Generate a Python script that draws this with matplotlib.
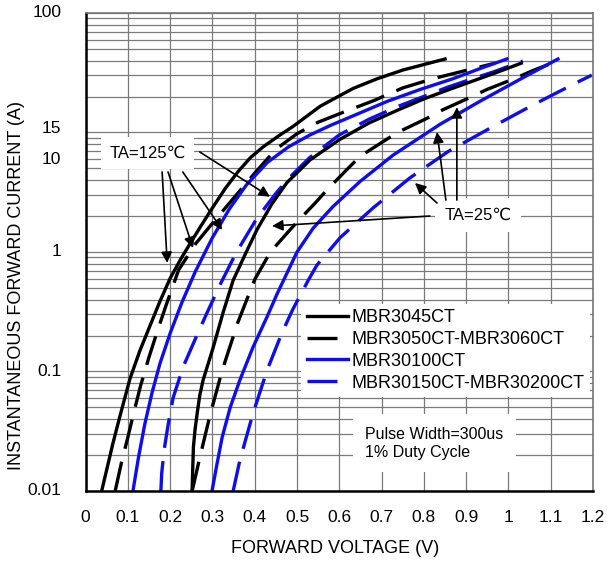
import matplotlib
matplotlib.use("Agg")
import matplotlib.pyplot as plt
from matplotlib.ticker import NullFormatter, LogLocator

plt.rcParams['font.family'] = ['Liberation Sans', 'DejaVu Sans', 'Noto Sans CJK SC']

# forward voltage (V) / forward current (A)
# MBR3045CT
v_3045_125 = [0.038, 0.05, 0.064, 0.08, 0.105, 0.128, 0.152, 0.175, 0.20, 0.225, 0.247, 0.275,
              0.30, 0.33, 0.36, 0.39, 0.42, 0.46, 0.49, 0.555, 0.633, 0.69, 0.75, 0.85]
i_3045_125 = [0.01, 0.0151, 0.0245, 0.0407, 0.0871, 0.148, 0.24, 0.38, 0.603, 0.871, 1.175, 1.70,
              2.34, 3.39, 4.68, 6.17, 7.59, 9.55, 11.2, 16.6, 23.4, 28.2, 33.3, 41.2]
v_3045_25 = [0.252, 0.253, 0.255, 0.259, 0.264, 0.27, 0.278, 0.302, 0.325, 0.349, 0.38, 0.405, 0.44,
             0.476, 0.531, 0.60, 0.67, 0.74, 0.80, 0.86, 0.97, 1.03]
i_3045_25 = [0.01, 0.0141, 0.0233, 0.033, 0.045, 0.063, 0.085, 0.16, 0.31, 0.58, 1.0, 1.53, 2.51,
             3.8, 5.9, 8.7, 12.0, 15.5, 19.1, 22.9, 31.6, 38]

# MBR3050CT-MBR3060CT
v_3060_125 = [0.07, 0.085, 0.10, 0.115, 0.13, 0.15, 0.17, 0.19, 0.22, 0.26, 0.30, 0.35, 0.40,
              0.45, 0.50, 0.55, 0.61, 0.68, 0.75, 0.82, 0.90, 0.968]
i_3060_125 = [0.01, 0.0174, 0.0282, 0.0468, 0.0759, 0.132, 0.219, 0.355, 0.708, 1.17, 1.74, 2.82, 4.57,
              7.24, 9.77, 12.2, 14.8, 18.4, 23.6, 28.1, 33.1, 38]
v_3060_25 = [0.252, 0.27, 0.294, 0.323, 0.36, 0.40, 0.437, 0.472, 0.50, 0.543, 0.571, 0.618, 0.649,
             0.715, 0.75, 0.814, 0.845, 0.914, 0.949, 1.02, 1.055, 1.117]
i_3060_25 = [0.01, 0.019, 0.0427, 0.102, 0.257, 0.589, 1.0, 1.38, 1.78, 2.57, 3.31, 4.9, 6.31,
             8.91, 10.5, 13.5, 15.5, 20, 22.9, 28.8, 32.7, 39.8]

# MBR30100CT
v_30100_125 = [0.112, 0.125, 0.14, 0.157, 0.176, 0.2, 0.228, 0.26, 0.30, 0.34, 0.38, 0.43, 0.48,
               0.531, 0.58, 0.633, 0.713, 0.791, 0.869, 0.933, 0.996]
i_30100_125 = [0.01, 0.019, 0.0363, 0.0661, 0.117, 0.209, 0.38, 0.692, 1.32, 2.29, 3.63, 5.62, 7.59,
               9.55, 11.5, 13.8, 18.2, 22.9, 28.2, 34.3, 41.2]
v_30100_25 = [0.299, 0.311, 0.323, 0.342, 0.365, 0.396, 0.429, 0.453, 0.50, 0.538, 0.585, 0.649,
              0.727, 0.838, 0.932, 1.03, 1.117]
i_30100_25 = [0.01, 0.017, 0.0282, 0.0501, 0.0851, 0.16, 0.286, 0.447, 1.0, 1.58, 2.4, 3.89,
              6.46, 11.7, 18.2, 28.2, 41.2]

# MBR30150CT-MBR30200CT
v_30200_125 = [0.178, 0.18, 0.186, 0.195, 0.207, 0.231, 0.263, 0.287, 0.32, 0.357, 0.405, 0.452,
               0.49, 0.53, 0.60, 0.67, 0.74, 0.857, 0.928, 0.963, 1.034]
i_30200_125 = [0.01, 0.0141, 0.0224, 0.0355, 0.0603, 0.11, 0.2, 0.309, 0.55, 1.0, 1.91, 3.16,
               4.47, 6.17, 9.55, 12.9, 16.6, 24, 29.2, 32, 39.6]
v_30200_25 = [0.349, 0.365, 0.396, 0.429, 0.464, 0.49, 0.526, 0.547, 0.602, 0.68, 0.767, 0.857,
              0.963, 1.058, 1.157, 1.197]
i_30200_25 = [0.01, 0.0182, 0.0447, 0.102, 0.209, 0.331, 0.575, 0.776, 1.32, 2.34, 4.17, 6.92,
              11.2, 17, 25.7, 30.2]

x_labels = ["0", "0.1", "0.2", "0.3", "0.4", "0.5", "0.6", "0.7", "0.8", "0.9", "1", "1.1", "1.2"]
# the datasheet prints "15" and "10" off their true grid lines; keep them where they sit
y_ticks = [0.01, 0.1, 1, 6.0, 10.9, 100]
y_labels = ["0.01", "0.1", "1", "10", "15", "100"]

BLACK = "#000000"
BLUE = "#0d0df0"
DASH = (0, (9, 4))
LW = 2.4

fig = plt.figure(figsize=(6.07, 5.65), dpi=100)
ax = fig.add_axes([0.141, 0.131, 0.836, 0.846])

ax.set_yscale("log")
ax.set_xlim(0, 1.2)
ax.set_ylim(0.01, 100)

# grid
ax.set_xticks([x / 10 for x in range(13)])
ax.yaxis.set_major_locator(LogLocator(base=10, subs=[1, 2, 3, 4, 5, 6, 7, 8, 9]))
ax.yaxis.set_major_formatter(NullFormatter())
ax.yaxis.set_minor_formatter(NullFormatter())
ax.grid(True, which="major", color="#7a7a7a", lw=0.9)
ax.set_axisbelow(True)
ax.tick_params(length=0, labelsize=12.5, pad=14)
ax.set_xticklabels(x_labels)
for yv, lab in zip(y_ticks, y_labels):
    ax.text(-0.048, yv, lab, ha="right", va="center", fontsize=12.5,
            transform=ax.get_yaxis_transform())

# curves
ax.plot(v_3045_125, i_3045_125, color=BLACK, lw=LW, label="MBR3045CT")
ax.plot(v_3060_125, i_3060_125, color=BLACK, lw=LW, ls=DASH, label="MBR3050CT-MBR3060CT")
ax.plot(v_30100_125, i_30100_125, color=BLUE, lw=LW, label="MBR30100CT")
ax.plot(v_30200_125, i_30200_125, color=BLUE, lw=LW, ls=DASH, label="MBR30150CT-MBR30200CT")
ax.plot(v_3045_25, i_3045_25, color=BLACK, lw=LW)
ax.plot(v_3060_25, i_3060_25, color=BLACK, lw=LW, ls=DASH)
ax.plot(v_30100_25, i_30100_25, color=BLUE, lw=LW)
ax.plot(v_30200_25, i_30200_25, color=BLUE, lw=LW, ls=DASH)

for s in ["left", "bottom"]:
    ax.spines[s].set_color("black")
    ax.spines[s].set_linewidth(1.8)
for s in ["top", "right"]:
    ax.spines[s].set_color("#777777")
    ax.spines[s].set_linewidth(1.2)

leg = ax.legend(loc="upper left", bbox_to_anchor=(0.425, 0.392), fontsize=13,
                handlelength=2.3, handletextpad=0.2, labelspacing=0.27,
                borderpad=0.3, borderaxespad=0, frameon=True, fancybox=False)
leg.get_frame().set_facecolor("white")
leg.get_frame().set_edgecolor("none")
leg.get_frame().set_alpha(1)

arrow = dict(arrowstyle="-|>", color="black", lw=1.2, mutation_scale=16, shrinkA=0, shrinkB=0)

# TA=125 annotation
ax.text(0.146, 6.7, "TA=125℃", fontsize=12, ha="center", va="center",
        bbox=dict(facecolor="white", edgecolor="none", pad=6), zorder=5)
ax.annotate("", xy=(0.193, 0.81), xytext=(0.181, 4.67), arrowprops=arrow, zorder=6)
ax.annotate("", xy=(0.254, 1.08), xytext=(0.195, 4.67), arrowprops=arrow, zorder=6)
ax.annotate("", xy=(0.323, 1.53), xytext=(0.23, 4.67), arrowprops=arrow, zorder=6)
ax.annotate("", xy=(0.436, 2.9), xytext=(0.27, 6.87), arrowprops=arrow, zorder=6)

# TA=25 annotation
ax.text(0.928, 2.04, "TA=25℃", fontsize=12, ha="center", va="center",
        bbox=dict(facecolor="white", edgecolor="none", pad=7), zorder=5)
ax.annotate("", xy=(0.878, 16.3), xytext=(0.878, 2.72), arrowprops=arrow, zorder=6)
ax.annotate("", xy=(0.831, 10.1), xytext=(0.852, 2.72), arrowprops=arrow, zorder=6)
ax.annotate("", xy=(0.779, 3.78), xytext=(0.831, 2.57), arrowprops=arrow, zorder=6)
ax.annotate("", xy=(0.441, 1.65), xytext=(0.814, 2.0), arrowprops=arrow, zorder=6)

ax.text(0.661, 0.0252, "Pulse Width=300us\n1% Duty Cycle", fontsize=11.5, ha="left", va="center",
        linespacing=1.25, bbox=dict(facecolor="white", edgecolor="none", pad=9), zorder=5)

fig.text(0.552, 0.03, "FORWARD VOLTAGE (V)", fontsize=13, ha="center", va="center")
fig.text(0.027, 0.495, "INSTANTANEOUS FORWARD CURRENT (A)", fontsize=13, ha="center",
         va="center", rotation=90)

fig.savefig("out.png", dpi=100)
